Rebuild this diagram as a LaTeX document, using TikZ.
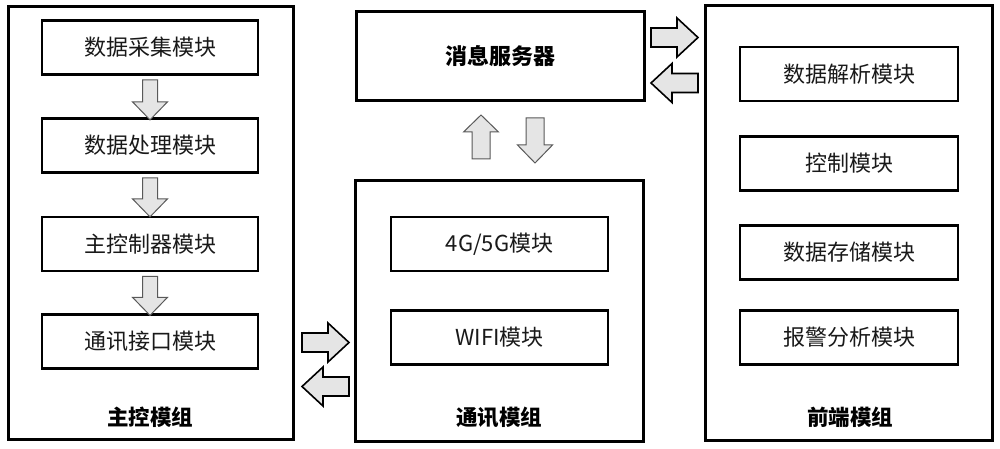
\documentclass[tikz,border=0pt]{standalone}
\usepackage{fontspec}
\setmainfont{Noto Sans CJK SC}
\usetikzlibrary{calc}
\tikzset{
  outerbox/.style={draw=black, line width=3pt, inner sep=0pt},
  modbox/.style={draw=black, line width=2.7pt, inner sep=0pt, minimum height=54pt,
    font=\fontsize{22}{26}\selectfont, text=black!90},
  grplabel/.style={inner sep=0pt, font=\bfseries\fontsize{21.5}{26}\selectfont, text=black},
  pics/barrow/.style n args={4}{code={
    \path[pic actions] (0,-#2) -- (#1-#4,-#2) -- (#1-#4,-#3) -- (#1,0) -- (#1-#4,#3) -- (#1-#4,#2) -- (0,#2) -- cycle;
  }},
  varrow/.style={draw=black!65, line width=1pt, fill=black!10, line join=miter},
  harrow/.style={draw=black, line width=1.6pt, fill=black!10, line join=miter},
}
\begin{document}
\begin{tikzpicture}[x=1pt,y=-1pt]
\useasboundingbox (0,0) rectangle (1000,449);
\fill[white] (0,0) rectangle (1000,449);

% left group
\node[outerbox, minimum width=285pt, minimum height=432pt] (main) at (150.5,223) {};
\node[modbox, minimum width=216pt] (m1) at (150,47.5) {数据采集模块};
\node[modbox, minimum width=216pt] (m2) at (150,145.5) {数据处理模块};
\node[modbox, minimum width=216pt] (m3) at (150,244) {主控制器模块};
\node[modbox, minimum width=216pt] (m4) at (150,341.5) {通讯接口模块};
\node[grplabel] (mainlbl) at (150,417) {主控模组};

\pic[varrow, rotate=-90] at ($(m1.south)+(0,4)$) {barrow={40}{7.5}{17.5}{18}};
\pic[varrow, rotate=-90] at ($(m2.south)+(0,4)$) {barrow={39}{7.5}{17.5}{18}};
\pic[varrow, rotate=-90] at ($(m3.south)+(0,4)$) {barrow={39}{7.5}{17.5}{18}};

% middle group
\node[outerbox, minimum width=288pt, minimum height=89pt,
  font=\bfseries\fontsize{22}{26}\selectfont, text=black] (srv) at (500,56.5) {消息服务器};
\node[outerbox, minimum width=288pt, minimum height=261pt] (comm) at (499,310.5) {};
\node[modbox, minimum width=217pt] (c1) at (499.5,244) {4G/5G模块};
\node[modbox, minimum width=217pt] (c2) at (499.5,337.5) {WIFI模块};
\node[grplabel] (commlbl) at (499,417) {通讯模组};

\pic[varrow, rotate=90] at (481,159) {barrow={44}{9}{17.5}{17}};
\pic[varrow, rotate=-90] at (535,118) {barrow={45}{9}{17.5}{18}};

% right group
\node[outerbox, minimum width=287pt, minimum height=434pt] (front) at (848.5,223) {};
\node[modbox, minimum width=218pt] (f1) at (849,74) {数据解析模块};
\node[modbox, minimum width=218pt] (f2) at (849,163.5) {控制模块};
\node[modbox, minimum width=218pt] (f3) at (849,252.5) {数据存储模块};
\node[modbox, minimum width=218pt] (f4) at (849,337.5) {报警分析模块};
\node[grplabel] (frontlbl) at (850,417) {前端模组};

% horizontal arrows
\pic[harrow] at (302,342.5) {barrow={47}{9.5}{19.5}{21}};
\pic[harrow, rotate=180] at (349,386.5) {barrow={47}{9.5}{19.5}{21}};
\pic[harrow] at (651,37.5) {barrow={47}{9.5}{19.5}{21}};
\pic[harrow, rotate=180] at (698,83) {barrow={47}{9.5}{19.5}{21}};
\end{tikzpicture}
\end{document}
